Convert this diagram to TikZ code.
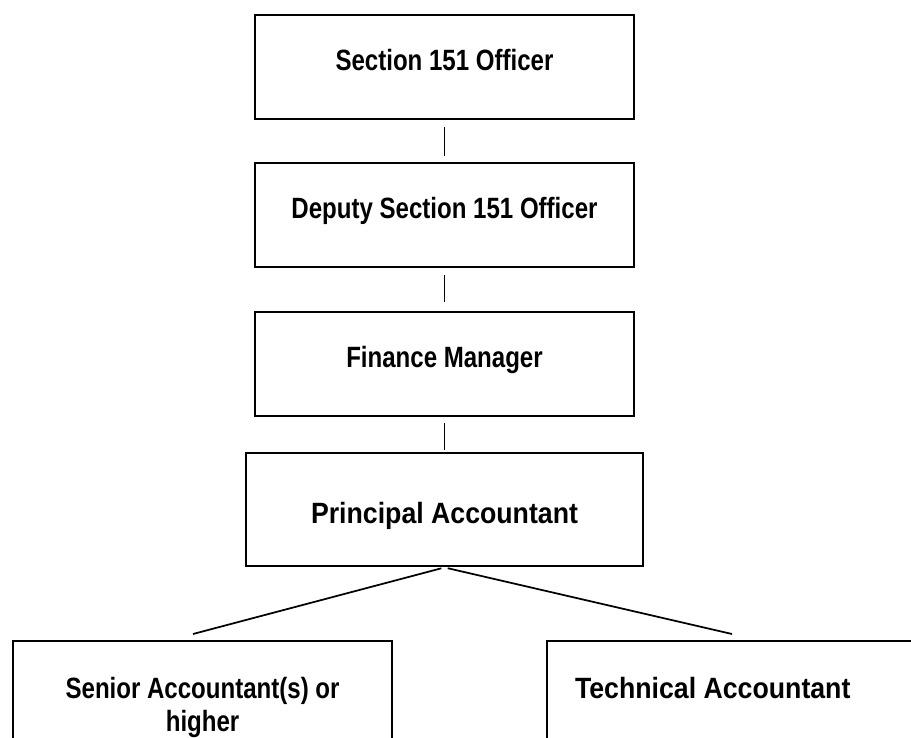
\documentclass[tikz,border=0pt]{standalone}
\usepackage{fontspec}
\setmainfont{Liberation Sans}[FakeStretch=0.82]
\newfontfamily\widefont{Liberation Sans}[FakeStretch=0.91]
\usetikzlibrary{positioning}

\begin{document}
\begin{tikzpicture}[x=0.75pt,y=-0.75pt,
  box/.style={draw,line width=1.6pt,font=\fontsize{22}{24.75}\selectfont\bfseries},
  post/.style={box,minimum width=284.25pt,minimum height=78pt,text height=15.75pt,text depth=10.5pt},
  lowpost/.style={box,anchor=north west,inner ysep=27pt},
  link/.style={line width=1.3pt}]
\useasboundingbox (0,0) rectangle (911,738);

\node[post] (s151) at (444.5,67) {Section 151 Officer};
\node[post,below=31.5pt of s151] (dep151) {Deputy Section 151 Officer};
\node[post,below=32.25pt of dep151] (finman) {Finance Manager};
\node[post,below=26.25pt of finman,minimum width=297.75pt,minimum height=84.75pt,
  text height=20pt,text depth=0pt] (princ) {\widefont Principal Accountant};

\node[lowpost,minimum width=284.25pt,align=center] (senior) at (12,640)
  {Senior Accountant(s) or\\higher};
\node[lowpost,text width=270pt,inner xsep=21pt,text depth=40pt,align=flush left] (tech) at (546,640)
  {\widefont Technical Accountant};

\coordinate (seniortop) at (193,634);
\coordinate (techtop) at (732,634);

\draw[link,shorten <=5.25pt,shorten >=4.5pt] (s151) -- (dep151);
\draw[link,shorten <=5.25pt,shorten >=6.75pt] (dep151) -- (finman);
\draw[link,shorten <=4.5pt,shorten >=1.5pt] (finman) -- (princ);
\draw[link,shorten <=2.5pt] (princ.south) -- (seniortop);
\draw[link,shorten <=2.5pt] (princ.south) -- (techtop);
\end{tikzpicture}
\end{document}
